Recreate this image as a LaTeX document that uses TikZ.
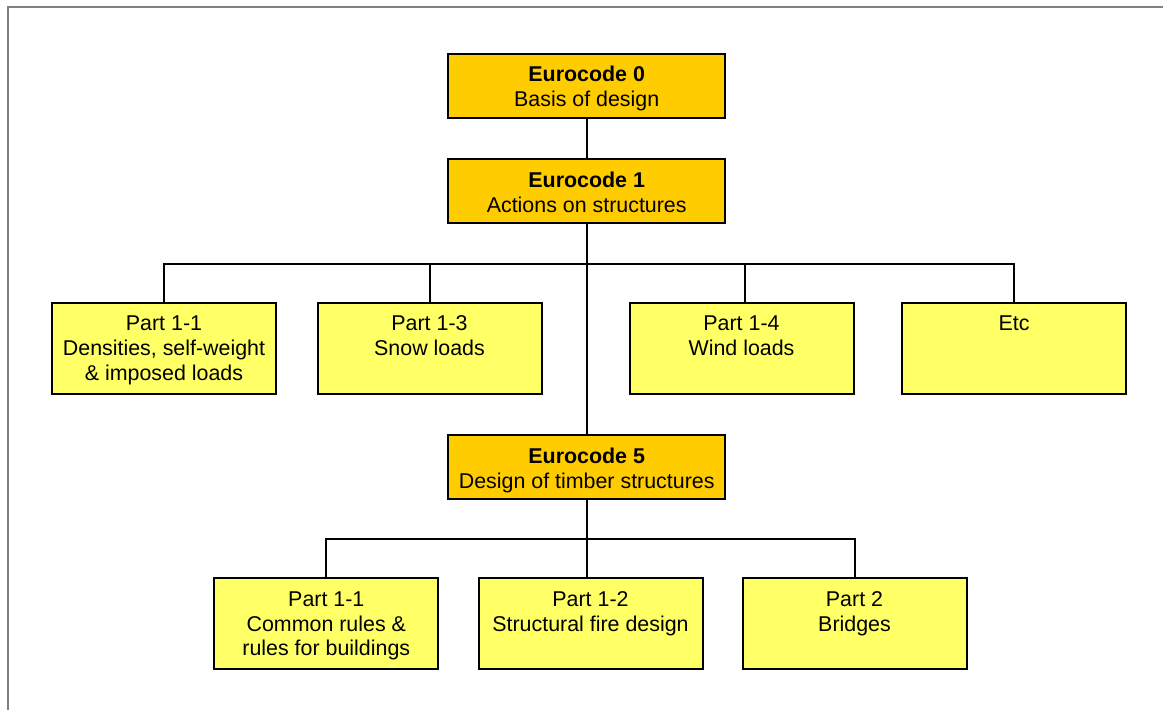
\documentclass[tikz,border=0pt]{standalone}
\usepackage{fontspec}
\setmainfont{Liberation Sans}
\definecolor{ecgold}{HTML}{FFCC00}
\definecolor{partyellow}{HTML}{FFFF66}
\definecolor{framegray}{HTML}{808080}
\newcommand\boxtext[3]{\parbox[c][#2][t]{#1}{\centering\fontsize{21.4pt}{24.8pt}\selectfont\rule{0pt}{28pt}#3}}
\begin{document}
\begin{tikzpicture}[x=1pt,y=-1pt,
  ecbox/.style={draw=black, line width=2pt, fill=ecgold, inner sep=0pt},
  partbox/.style={draw=black, line width=2pt, fill=partyellow, inner sep=0pt},
  conn/.style={draw=black, line width=2pt},
  frameline/.style={draw=framegray, line width=2pt}]
\useasboundingbox (0,0) rectangle (1163,710);
\draw[frameline] (1164,7) -- (7.5,7) -- (7.5,711);

\node[ecbox] (ec0) at (586.7,85.8) {\boxtext{277pt}{64pt}{\textbf{Eurocode 0}\\Basis of design}};
\node[ecbox] (ec1) at (586.7,191.3) {\boxtext{277pt}{64pt}{\textbf{Eurocode 1}\\Actions on structures}};
\node[ecbox] (ec5) at (586.7,467.3) {\boxtext{277pt}{64pt}{\textbf{Eurocode 5}\\Design of timber structures}};

\node[partbox] (p11) at (164,348.3) {\boxtext{224pt}{91pt}{Part 1-1\\Densities, self-weight\\\& imposed loads}};
\node[partbox] (p13) at (429.5,348.3) {\boxtext{224pt}{91pt}{Part 1-3\\Snow loads}};
\node[partbox] (p14) at (741.5,348.3) {\boxtext{224pt}{91pt}{Part 1-4\\Wind loads}};
\node[partbox] (etc) at (1014,348.3) {\boxtext{224pt}{91pt}{Etc}};

\node[partbox] (b11) at (326.3,623.7) {\boxtext{224pt}{91pt}{Part 1-1\\Common rules \&\\rules for buildings}};
\node[partbox] (b12) at (590.5,623.7) {\boxtext{224pt}{91pt}{Part 1-2\\Structural fire design}};
\node[partbox] (b2) at (854.5,623.7) {\boxtext{224pt}{91pt}{Part 2\\Bridges}};

\coordinate (bus1) at (586.7,263.5);
\coordinate (bus2) at (586.7,539);

\draw[conn] (ec0.south) -- (ec1.north);
\draw[conn] (ec1.south) -- (ec5.north);
\draw[conn] (p11.north) |- (bus1) -| (etc.north);
\draw[conn] (p13.north) -- (p13.north |- bus1);
\draw[conn] ([xshift=3.5pt]p14.north) -- ([xshift=3.5pt]p14.north |- bus1);
\draw[conn] (ec5.south) -- (bus2 |- b12.north);
\draw[conn] (b11.north) |- (bus2) -| (b2.north);
\end{tikzpicture}
\end{document}
